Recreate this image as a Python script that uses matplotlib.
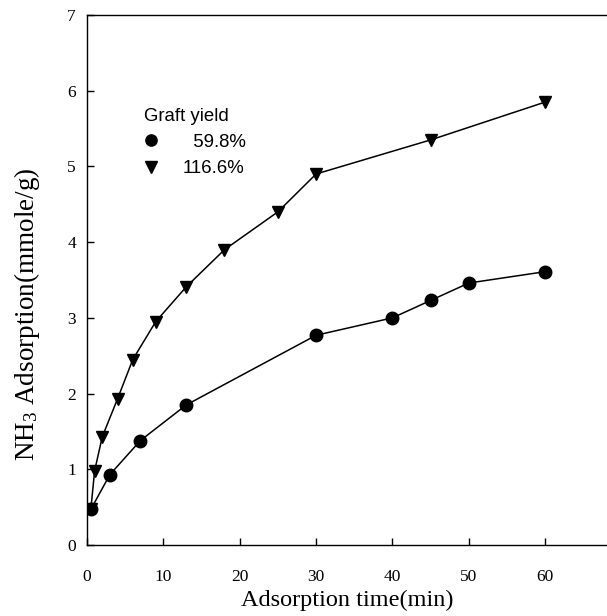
import matplotlib

matplotlib.use("Agg")
import matplotlib.pyplot as plt

# adsorption time (min) and NH3 uptake (mmole/g)
t_low = [0.5, 3, 7, 13, 30, 40, 45, 50, 60]
ads_low = [0.47, 0.93, 1.38, 1.85, 2.77, 3.0, 3.23, 3.46, 3.61]
t_high = [0.5, 1, 2, 4, 6, 9, 13, 18, 25, 30, 45, 60]
ads_high = [0.47, 0.98, 1.43, 1.93, 2.45, 2.95, 3.41, 3.9, 4.4, 4.9, 5.35, 5.85]
labels = ["  59.8%", "116.6%"]

SERIF = "Liberation Serif"
SANS = "Liberation Sans"
plt.rcParams["mathtext.fontset"] = "custom"
plt.rcParams["mathtext.rm"] = SERIF
plt.rcParams["mathtext.it"] = SERIF + ":italic"

fig = plt.figure(figsize=(6.07, 6.16), dpi=100)
ax = fig.add_axes([87 / 607, 71 / 616, 520 / 607, 530 / 616])

ax.plot(t_low, ads_low, "-o", color="black", lw=1.1, ms=9, label=labels[0])
ax.plot(t_high, ads_high, "-v", color="black", lw=1.1, ms=9, label=labels[1])

ax.set_xlim(0, 68.1)
ax.set_ylim(0, 7)
ax.set_xticks(range(0, 61, 10))
ax.set_yticks(range(0, 8))
ax.spines["right"].set_visible(False)
for s in ax.spines.values():
    s.set_linewidth(1.0)
ax.tick_params(direction="in", length=5, width=1, top=False, right=False,
               labelsize=12.5)
ax.tick_params(axis="y", pad=8)
ax.tick_params(axis="x", pad=17)
for lab in ax.get_xticklabels() + ax.get_yticklabels():
    lab.set_family(SERIF)

ax.set_xlabel("Adsorption time(min)", family=SERIF, fontsize=17.5, labelpad=4)
ax.set_ylabel(r"NH$_\mathregular{3}$ Adsorption(mmole/g)", family=SERIF,
              fontsize=19.5, labelpad=6)
ax.yaxis.set_label_coords(-0.087, 0.435)

leg = ax.legend(title="Graft yield", loc="upper left",
                bbox_to_anchor=(0.091, 0.843), borderpad=0,
                frameon=False, prop={"family": SANS, "size": 13.4},
                handlelength=0.8, handletextpad=1.3, labelspacing=0.5,
                markerscale=0.9,
                title_fontproperties={"family": SANS, "size": 13.4})
leg._legend_box.align = "left"
for h in leg.legend_handles:
    h.set_linestyle("none")

fig.savefig("out.png", dpi=100)
